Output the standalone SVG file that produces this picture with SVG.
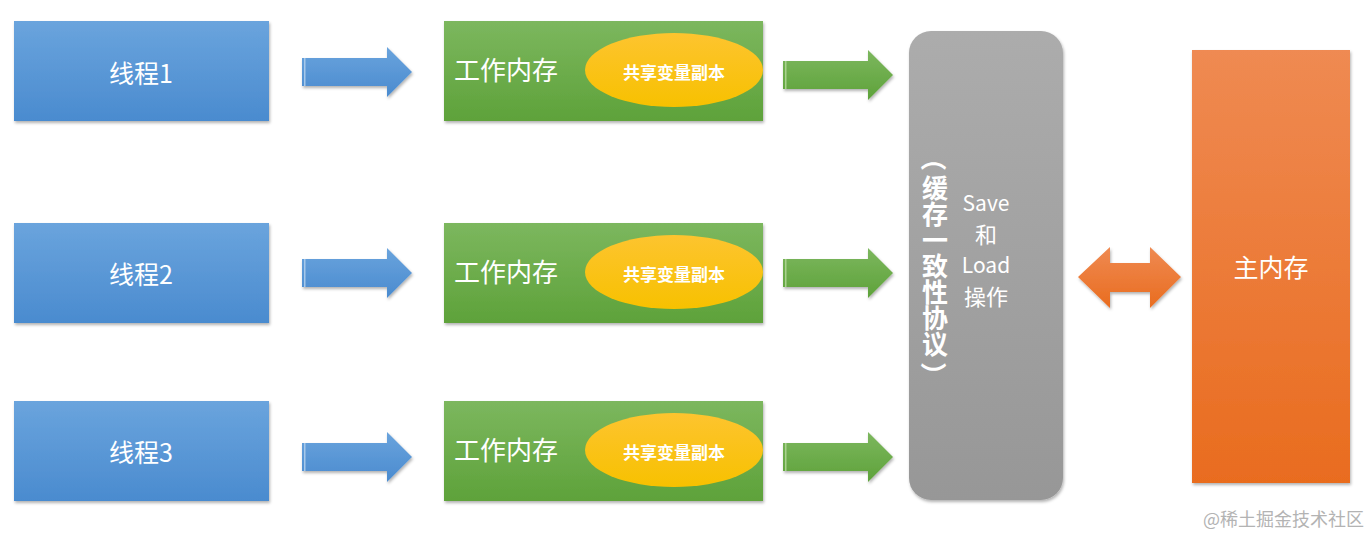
<svg xmlns="http://www.w3.org/2000/svg" width="1371" height="537" viewBox="0 0 1371 537">
<defs>
<linearGradient id="gBlue" x1="0" y1="0" x2="0" y2="1"><stop offset="0" stop-color="#6aa4dd"/><stop offset="1" stop-color="#4a8bcf"/></linearGradient>
<linearGradient id="gGreen" x1="0" y1="0" x2="0" y2="1"><stop offset="0" stop-color="#7cb75e"/><stop offset="1" stop-color="#5ea23a"/></linearGradient>
<linearGradient id="gOrange" x1="0" y1="0" x2="0" y2="1"><stop offset="0" stop-color="#ef8a52"/><stop offset="1" stop-color="#e96c1f"/></linearGradient>
<linearGradient id="gYellow" x1="0" y1="0" x2="0" y2="1"><stop offset="0" stop-color="#fdc42f"/><stop offset="1" stop-color="#f7c100"/></linearGradient>
<linearGradient id="gGray" x1="0" y1="0" x2="0" y2="1"><stop offset="0" stop-color="#acacac"/><stop offset="1" stop-color="#979797"/></linearGradient>
<filter id="sh" x="-10%" y="-10%" width="120%" height="130%"><feDropShadow dx="1" dy="2" stdDeviation="1.5" flood-color="#000" flood-opacity="0.3"/></filter>
<path id="arrow" d="M0,-14 H85 V-25 L110,0 L85,25 V14 H0 Z"/>
</defs>
<style>
.cjk{font-family:"Noto Sans CJK SC","Noto Sans",sans-serif;fill:#fff}
.lbl{font-size:25px;text-anchor:middle;dominant-baseline:central}
.wm{font-size:26px}
.ell{font-size:17px;font-weight:bold;text-anchor:middle;dominant-baseline:central}
.blue{fill:url(#gBlue);filter:url(#sh)}
.green{fill:url(#gGreen);filter:url(#sh)}
.par{font-size:26px;font-weight:bold;text-anchor:middle;dominant-baseline:central}
</style>
<g id="connectors">
<g fill="url(#gBlue)" filter="url(#sh)">
<use href="#arrow" x="302" y="72"/>
<use href="#arrow" x="302" y="273"/>
<use href="#arrow" x="302" y="457"/>
</g>
<g fill="#a6c8ea">
<rect x="304" y="58" width="1.5" height="28"/><rect x="304" y="259" width="1.5" height="28"/><rect x="304" y="443" width="1.5" height="28"/>
</g>
<g fill="url(#gGreen)" filter="url(#sh)">
<use href="#arrow" x="783" y="75"/>
<use href="#arrow" x="783" y="273"/>
<use href="#arrow" x="783" y="457"/>
</g>
<g fill="#a9d18e">
<rect x="785" y="61" width="1.5" height="28"/><rect x="785" y="259" width="1.5" height="28"/><rect x="785" y="443" width="1.5" height="28"/>
</g>
<path d="M1078,277 L1110,247 V263 H1150 V247 L1181,277 L1150,308 V292 H1110 V308 Z" fill="url(#gOrange)" filter="url(#sh)"/>
</g>
<g id="thread1"><rect class="blue" x="14" y="21" width="255" height="100"/><text class="cjk lbl" x="141" y="72">线程1</text></g>
<g id="thread2"><rect class="blue" x="14" y="223" width="255" height="100"/><text class="cjk lbl" x="141" y="273">线程2</text></g>
<g id="thread3"><rect class="blue" x="14" y="401" width="255" height="100"/><text class="cjk lbl" x="141" y="451">线程3</text></g>
<g id="work1"><rect class="green" x="444" y="21" width="319" height="100"/><text class="cjk wm" x="454" y="80">工作内存</text><ellipse cx="674" cy="70" rx="89" ry="37" fill="url(#gYellow)"/><text class="cjk ell" x="674" y="71">共享变量副本</text></g>
<g id="work2"><rect class="green" x="444" y="223" width="319" height="100"/><text class="cjk wm" x="454" y="282">工作内存</text><ellipse cx="674" cy="272" rx="89" ry="37" fill="url(#gYellow)"/><text class="cjk ell" x="674" y="273">共享变量副本</text></g>
<g id="work3"><rect class="green" x="444" y="401" width="319" height="100"/><text class="cjk wm" x="454" y="460">工作内存</text><ellipse cx="674" cy="450" rx="89" ry="37" fill="url(#gYellow)"/><text class="cjk ell" x="674" y="451">共享变量副本</text></g>
<g id="protocol">
<rect x="909" y="31" width="154" height="469" rx="22" fill="url(#gGray)" filter="url(#sh)"/>
<text class="cjk par" x="935" y="158" transform="rotate(90 935 158)">（</text>
<text class="cjk" x="935" y="175" font-size="26" font-weight="bold" style="writing-mode:vertical-rl">缓存一致性协议</text>
<text class="cjk par" x="935" y="375" transform="rotate(90 935 375)">）</text>
<g class="cjk" font-size="21" text-anchor="middle">
<text x="986" y="211">Save</text>
<text x="986" y="243" font-size="22">和</text>
<text x="986" y="273">Load</text>
<text x="986" y="305" font-size="22">操作</text>
</g>
</g>
<g id="main"><rect x="1192" y="50" width="158" height="433" fill="url(#gOrange)" filter="url(#sh)"/><text class="cjk lbl" x="1271" y="266">主内存</text></g>
<text x="1364" y="526" text-anchor="end" font-family="Noto Sans CJK SC, sans-serif" font-size="18" fill="#b3b3b3">@稀土掘金技术社区</text>
</svg>
